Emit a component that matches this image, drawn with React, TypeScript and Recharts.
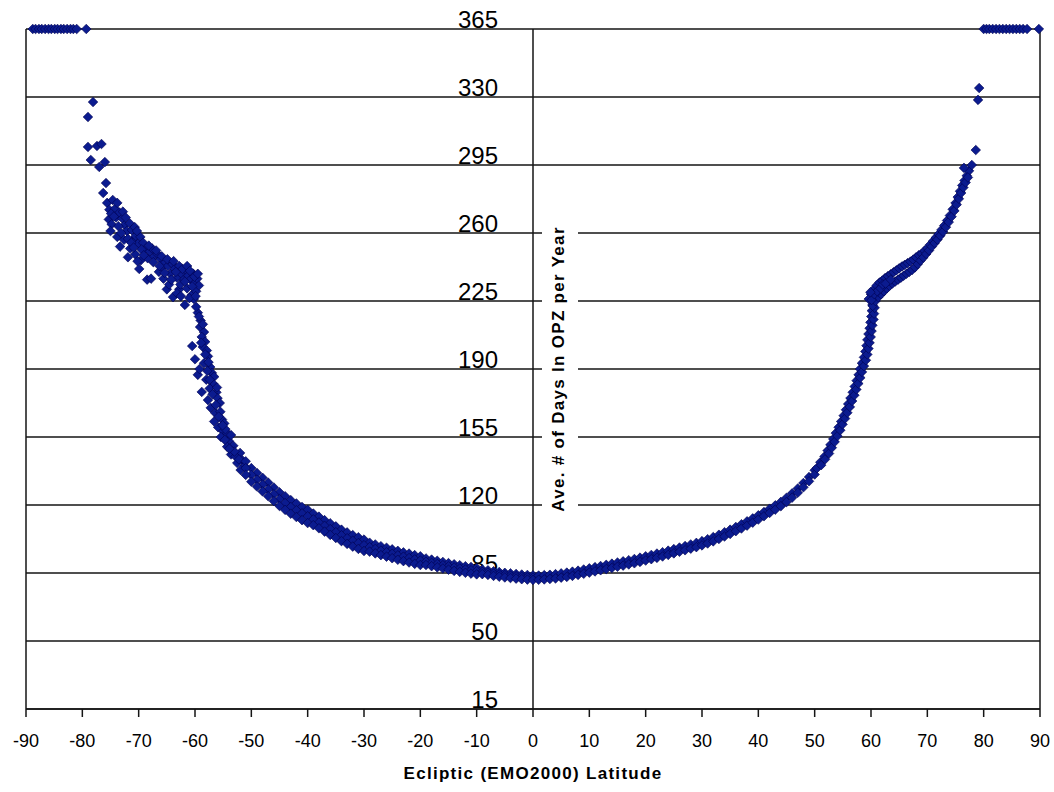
import React from 'react';
import { ScatterChart, Scatter, XAxis, YAxis, ReferenceLine } from 'recharts';

type LatDays = [number, number];

const FONT = '"Liberation Sans", Arial, Helvetica, sans-serif';
const INK = '#151515';
const MARK_FILL = '#0b1b8f';
const MARK_EDGE = '#00004d';

const latTicks = [-90, -80, -70, -60, -50, -40, -30, -20, -10, 0, 10, 20, 30, 40, 50, 60, 70, 80, 90];
const dayTicks = [15, 50, 85, 120, 155, 190, 225, 260, 295, 330, 365];

// always inside the zone near the poles
const southPolar: LatDays[] = [
  [-88.8, 365], [-88.3, 365], [-87.7, 365], [-87.2, 365], [-86.6, 365], [-86.0, 365], [-85.5, 365], [-84.9, 365],
  [-84.4, 365], [-83.8, 365], [-83.3, 365], [-82.7, 365], [-82.1, 365], [-81.6, 365], [-81.0, 365], [-79.3, 365],
];
const northPolar: LatDays[] = [
  [80.0, 365], [80.5, 365], [81.0, 365], [81.6, 365], [82.2, 365], [82.8, 365], [83.4, 365], [84.0, 365],
  [84.6, 365], [85.2, 365], [85.8, 365], [86.4, 365], [87.0, 365], [87.7, 365], [89.8, 365],
];

const southOutliers: LatDays[] = [
  [-78.1, 327.4], [-79.0, 319.7], [-79.0, 304.3], [-77.4, 304.8], [-76.6, 305.8],
  [-78.5, 297.6], [-77.0, 294.0], [-76.0, 296.5], [-75.8, 285.7], [-76.3, 280.6],
];
const northOutliers: LatDays[] = [
  [79.2, 334.6], [79.0, 328.5], [78.6, 302.7], [77.9, 295.0], [76.5, 293.5],
];

// southern shelf between -76 and -59
const southShelf: LatDays[] = [
  [-75.6, 275.5], [-75.2, 272], [-74.6, 277], [-74.2, 272.5], [-73.8, 275.5], [-75.3, 267], [-74.8, 264.5],
  [-75.0, 261], [-74.0, 268], [-73.4, 270.5], [-72.9, 267.5], [-72.5, 264], [-73.8, 258], [-73.3, 253],
  [-72.6, 256.5], [-72.1, 261], [-71.6, 265], [-71.2, 261.5], [-70.7, 263], [-71.9, 247.5], [-71.5, 252],
  [-71.0, 256.5], [-70.5, 258.5], [-70.1, 254.5], [-70.6, 249], [-69.7, 258], [-69.2, 255], [-68.8, 251.5],
  [-69.6, 246], [-68.5, 236], [-68.4, 247], [-68.0, 250.5], [-67.6, 252], [-67.2, 248], [-66.6, 249],
  [-66.1, 246.5], [-66.4, 240], [-65.8, 242.5], [-65.0, 231], [-65.6, 236.5], [-65.3, 245], [-64.8, 243],
  [-64.4, 239], [-64.0, 244], [-63.9, 227], [-63.6, 241.5], [-63.2, 237], [-62.8, 243], [-62.4, 239],
  [-62.8, 231], [-62.0, 236], [-61.8, 223], [-61.6, 241], [-61.2, 238], [-61.4, 231.5], [-60.8, 236],
  [-60.6, 228], [-60.3, 239], [-60.0, 234.5], [-59.8, 230], [-59.6, 236.5], [-59.3, 233], [-60.2, 226],
  [-61.0, 226.5], [-64.6, 233.5], [-69.9, 241.5], [-63.2, 229],
  [-74.9, 270], [-74.4, 268.5], [-73.6, 263.5], [-73.1, 260], [-72.8, 271], [-72.3, 268], [-71.9, 257],
  [-71.3, 255], [-70.9, 252.5], [-70.3, 261], [-69.5, 251.5], [-69.1, 248.5], [-68.2, 253.5], [-67.4, 245],
  [-66.9, 251], [-66.3, 243], [-65.9, 248], [-65.4, 239.5], [-64.9, 246.5], [-64.2, 236], [-63.8, 245.5],
  [-63.4, 240], [-62.6, 233.5], [-62.2, 241.5], [-61.8, 235], [-61.4, 243], [-60.9, 240.5], [-60.5, 232.5],
  [-60.1, 237.5], [-59.5, 239], [-59.9, 227.5], [-62.5, 227.5], [-67.8, 236.5], [-70.2, 245.5],
];

const southSteep: LatDays[] = [
  [-59.5, 219], [-59.0, 215], [-59.1, 211.6], [-58.4, 209], [-58.8, 206.5], [-58.2, 204], [-60.5, 201.8],
  [-58.6, 201.3], [-57.9, 199.5], [-57.7, 196.5], [-60.0, 195], [-58.4, 193], [-57.3, 191], [-57.0, 188],
  [-59.5, 187], [-56.6, 186], [-58.0, 184.5], [-56.8, 182.5], [-57.4, 180], [-58.8, 178.2], [-56.2, 178],
  [-57.7, 174], [-56.0, 175], [-55.6, 172.5], [-57.2, 170], [-56.4, 167.4], [-55.5, 168], [-55.2, 164],
  [-56.6, 163], [-54.8, 162], [-55.9, 160], [-55.0, 158], [-54.3, 157], [-55.4, 155], [-54.0, 153],
  [-53.6, 156], [-53.2, 150.5], [-54.3, 150], [-53.6, 146], [-52.0, 146.8], [-52.8, 145], [-51.6, 143],
  [-52.5, 141.6], [-51.2, 140], [-51.9, 138],
  [-59.8, 222], [-59.3, 217], [-58.6, 213], [-58.9, 203.5], [-58.2, 197.5], [-57.6, 193.5], [-59.2, 190],
  [-57.8, 189], [-57.4, 184.5], [-56.9, 177], [-56.3, 171.5], [-55.8, 165.5], [-54.6, 159], [-54.7, 153.5],
  [-53.0, 147.5], [-52.2, 143.5], [-56.1, 180.5], [-55.1, 161], [-53.9, 149],
];

// southern bowl, -51 .. 0
const southLat = [
  -51, -50, -49, -48, -47, -46, -45, -44, -43, -42, -41, -40, -39, -38, -37, -36, -35, -34, -33, -32, -31, -30,
  -29, -28, -27, -26, -25, -24, -23, -22, -21, -20, -19, -18, -17, -16, -15, -14, -13, -12, -11, -10, -9, -8,
  -7, -6, -5, -4, -3, -2, -1, 0,
];
const southMid = [
  139, 135.5, 133, 130.5, 128, 125.5, 123, 121, 119, 117.3, 115.7, 114.2, 112.6, 111, 109.3, 107.6, 106, 104.4,
  102.9, 101.6, 100.4, 99.3, 98.3, 97.4, 96.5, 95.7, 94.9, 94.1, 93.4, 92.7, 92, 91.4, 90.8, 90.2, 89.6, 89,
  88.4, 87.8, 87.3, 86.8, 86.4, 86, 85.6, 85.2, 84.7, 84.3, 83.9, 83.6, 83.3, 83, 82.8, 82.6,
];
const southHigh = [
  142.5, 139, 136.5, 134, 131.5, 129, 126.5, 124.5, 122.5, 120.8, 119, 117.5, 115.6, 114, 112.2, 110.6, 109,
  107.3, 105.9, 104.5, 103.4, 102.2, 100.6, 99.7, 98.8, 98, 97.2, 96.4, 95.6, 95, 94.2, 93.6, 92.5, 91.9, 91.3,
  90.7, 90.1, 89.5, 89, 88.5, 88.1, 87.6, 86.8, 86.4, 85.9, 85.5, 85.1, 84.8, 84.5, 84.2, 84, 83.8,
];
const southLow = [
  135.5, 132, 129.5, 127, 124.5, 122, 119.5, 117.5, 115.5, 113.8, 112.2, 110.7, 109.6, 108, 106.3, 104.6, 103,
  101.4, 100, 98.6, 97.4, 96.3, 96, 95.1, 94.2, 93.4, 92.6, 91.8, 91.1, 90.4, 89.7, 89.1, 89.1, 88.5, 87.9,
  87.3, 86.7, 86.1, 85.6, 85.1, 84.7, 84.3, 84.4, 84, 83.5, 83.1, 82.7, 82.4, 82.1, 81.8, 81.6, 81.4,
];

// northern bowl, 1 .. 50
const northLat = [
  1, 2, 3, 4, 5, 6, 7, 8, 9, 10, 11, 12, 13, 14, 15, 16, 17, 18, 19, 20, 21, 22, 23, 24, 25, 26, 27, 28, 29, 30,
  31, 32, 33, 34, 35, 36, 37, 38, 39, 40, 41, 42, 43, 44, 45, 46, 47, 48, 49, 50,
];
const northHigh = [
  83.7, 83.9, 84.1, 84.4, 84.8, 85.2, 85.7, 86.2, 86.8, 87.4, 88, 88.6, 89.2, 89.8, 90.4, 91, 91.6, 92.2, 92.9,
  93.6, 94.3, 95, 95.7, 96.5, 97.3, 98.1, 98.9, 99.7, 100.5, 101.4, 102.4, 103.5, 104.7, 106, 107.3, 108.7,
  110.1, 111.6, 113.1, 114.7, 116.4, 118.1, 119.8, 121.6, 123.7, 126, 128.5, 131.3, 134.4, 137.9,
];
const northLow = [
  81.5, 81.7, 81.9, 82.2, 82.6, 83, 83.5, 84, 84.6, 85.2, 85.8, 86.4, 87, 87.6, 88.2, 88.8, 89.4, 90, 90.7,
  91.4, 92.1, 92.8, 93.5, 94.3, 95.1, 95.9, 96.7, 97.5, 98.3, 99.2, 100.2, 101.3, 102.5, 103.8, 105.1, 106.5,
  107.9, 109.4, 110.9, 112.5, 114.2, 115.9, 117.6, 119.4, 121.5, 123.8, 126.3, 129.1, 132.2, 135.7,
];

const northSteep: LatDays[] = [
  [50.4, 139], [51.0, 142], [51.75, 145], [52.3, 148], [52.8, 151], [53.3, 154], [53.75, 157], [54.25, 160],
  [54.7, 163], [55.15, 166], [55.55, 169], [55.95, 172], [56.35, 175], [56.75, 178], [57.1, 181], [57.45, 184],
  [57.8, 187], [58.05, 190], [58.4, 193], [58.75, 196], [59.0, 199], [59.2, 202], [59.35, 205], [59.55, 208],
  [59.75, 211], [59.9, 214], [60.05, 217], [60.15, 220], [60.25, 223],
  [51.15, 140.5], [51.85, 143.5], [52.55, 146.5], [53.05, 149.5], [53.55, 152.5], [54.05, 155.5], [54.55, 158.5],
  [54.95, 161.5], [55.4, 164.5], [55.8, 167.5], [56.25, 170.5], [56.65, 173.5], [57.05, 176.5], [57.4, 179.5],
  [57.75, 182.5], [58.1, 185.5], [58.4, 188.5], [58.75, 191.5], [59.1, 194.5], [59.35, 197.5], [59.55, 200.5],
  [59.75, 203.5], [59.95, 206.5], [60.1, 209.5], [60.25, 212.5], [60.45, 215.5], [60.55, 218.5], [60.65, 221.5],
];

const northShelf: LatDays[] = [
  [60.0, 228.5], [60.5, 231], [61.0, 233], [61.5, 234.5], [62.0, 235.5], [62.5, 236.8], [63.0, 237.8], [63.5, 238.8],
  [64.0, 239.8], [64.5, 240.8], [65.0, 241.8], [65.5, 242.8], [66.0, 243.6], [66.5, 244.5], [67.0, 245.3],
  [67.5, 246.3], [68.0, 247.5], [68.5, 248.6], [69.0, 249.4], [69.5, 250.8], [70.0, 252.3], [70.5, 254],
  [71.0, 255.8], [71.5, 257.6], [72.0, 259.4], [72.5, 261.6], [73.0, 263.8], [73.5, 266.4], [74.0, 269],
  [74.5, 272.2], [75.0, 275.4], [75.4, 278.5], [75.8, 281.5], [76.2, 284.5], [76.6, 287], [77.0, 289.5], [77.4, 292],
  [60.3, 222.5], [60.8, 225], [61.3, 227], [61.8, 228.5], [62.3, 230], [62.8, 231.5], [63.3, 232.8], [63.8, 234],
  [64.3, 235], [64.8, 236], [65.3, 237], [65.8, 238], [66.3, 239], [66.8, 240], [67.3, 241], [67.8, 242.3],
  [68.3, 244], [68.8, 245.8], [69.3, 247.4], [69.8, 249.2], [70.3, 251], [70.8, 253], [71.3, 254.8], [71.8, 256.6],
  [72.3, 258.6], [72.8, 260.6], [73.3, 263], [73.8, 265.6], [74.3, 268.4], [74.8, 271.4], [75.2, 274.6],
  [75.6, 277.6], [76.0, 280.6], [76.4, 283.4], [76.8, 286], [77.2, 288.6],
  [59.6, 226], [60.1, 225.5], [60.6, 228.5], [61.1, 230], [61.7, 231.5], [62.1, 233.5], [62.6, 234], [59.9, 229.5],
  [63.5, 236],
];

const fromPairs = (pairs: LatDays[]) => pairs.map(([lat, days]) => ({ lat, days }));
const fromColumns = (lats: number[], days: number[]) => lats.map((lat, i) => ({ lat, days: days[i] }));

const points = [
  ...fromPairs(southPolar),
  ...fromPairs(southOutliers),
  ...fromPairs(southShelf),
  ...fromPairs(southSteep),
  ...fromColumns(southLat, southHigh),
  ...fromColumns(southLat, southMid),
  ...fromColumns(southLat, southLow),
  ...fromColumns(northLat, northHigh),
  ...fromColumns(northLat, northLow),
  ...fromPairs(northSteep),
  ...fromPairs(northShelf),
  ...fromPairs(northOutliers),
  ...fromPairs(northPolar),
];

const renderDiamond = (props: any) => {
  const { cx, cy } = props;
  const r = 4.8;
  return (
    <path
      d={`M${cx},${cy - r}L${cx + r},${cy}L${cx},${cy + r}L${cx - r},${cy}Z`}
      fill={MARK_FILL}
      stroke={MARK_EDGE}
      strokeWidth={0.6}
    />
  );
};

// tick values sit just above their gridline, left of the central axis
const dayLabel = (value: number) => (props: any) => {
  const vb = props.viewBox;
  return (
    <text
      x={vb.x + vb.width / 2 - 35}
      y={vb.y - 1.5}
      textAnchor="end"
      fontFamily={FONT}
      fontSize={24}
      fill="#000"
    >
      {value}
    </text>
  );
};

const yTitle = (props: any) => {
  const vb = props.viewBox;
  const cx = vb.x + 31;
  const cy = vb.y + vb.height / 2;
  return (
    <g>
      <rect x={vb.x + 9} y={cy - 148} width={36} height={296} fill="#fff" />
      <text
        x={cx}
        y={cy}
        transform={`rotate(-90, ${cx}, ${cy})`}
        textAnchor="middle"
        fontFamily={FONT}
        fontWeight="bold"
        fontSize={17}
        letterSpacing={1.3}
        fill="#000"
      >
        Ave. # of Days In OPZ per Year
      </text>
    </g>
  );
};

const xTitle = (props: any) => {
  const vb = props.viewBox;
  return (
    <text
      x={vb.x + vb.width / 2}
      y={vb.y + vb.height - 13}
      textAnchor="middle"
      fontFamily={FONT}
      fontWeight="bold"
      fontSize={17}
      letterSpacing={1.3}
      fill="#000"
    >
      Ecliptic (EMO2000) Latitude
    </text>
  );
};

export default function App() {
  return (
    <div style={{ position: 'absolute', left: 0, top: 0, width: 1054, height: 792, background: '#fff' }}>
      <ScatterChart width={1054} height={792} margin={{ top: 29, right: 14, bottom: 0, left: 26 }}>
        <XAxis
          type="number"
          dataKey="lat"
          domain={[-90, 90]}
          ticks={latTicks}
          interval={0}
          height={83}
          tickSize={8}
          tickMargin={17}
          axisLine={{ stroke: INK, strokeWidth: 1.5 }}
          tickLine={{ stroke: INK, strokeWidth: 1.5 }}
          tick={{ fill: '#000', fontSize: 18, fontFamily: FONT }}
          label={{ content: xTitle }}
        />
        <YAxis type="number" dataKey="days" domain={[15, 365]} ticks={dayTicks} hide />
        {dayTicks.map((v) => (
          <ReferenceLine key={v} y={v} stroke={INK} strokeWidth={1.5} label={{ content: dayLabel(v) }} />
        ))}
        <ReferenceLine x={-90} stroke={INK} strokeWidth={1.5} />
        <ReferenceLine x={90} stroke={INK} strokeWidth={1.5} />
        <ReferenceLine x={0} stroke={INK} strokeWidth={1.5} label={{ content: yTitle }} />
        <Scatter data={points} shape={renderDiamond} isAnimationActive={false} />
      </ScatterChart>
    </div>
  );
}
